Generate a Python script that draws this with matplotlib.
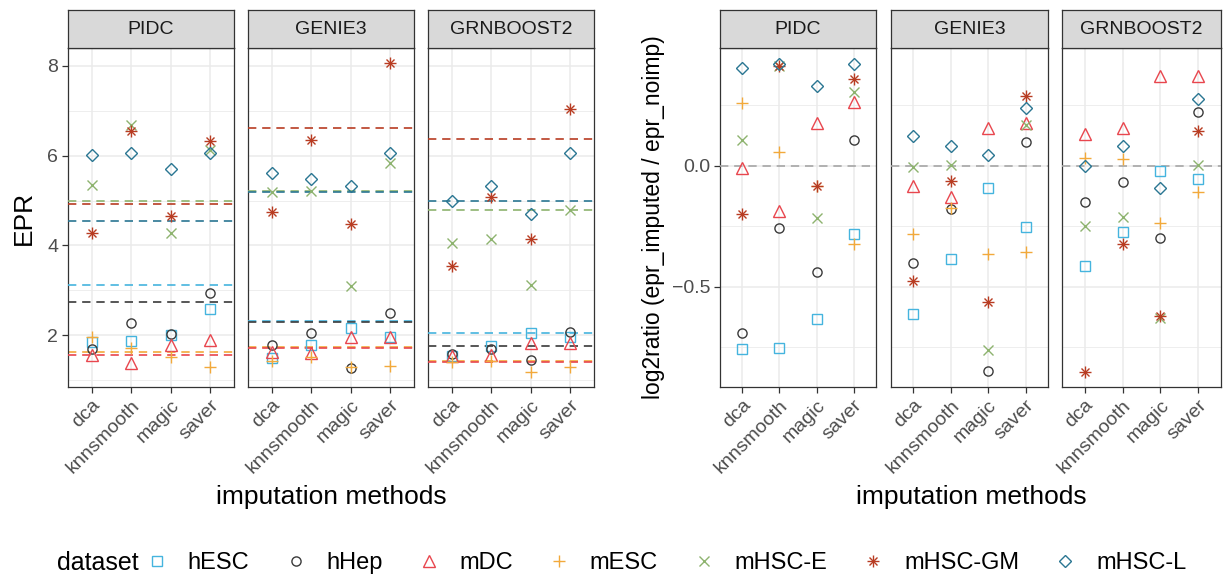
import numpy as np
import matplotlib
matplotlib.use("Agg")
import matplotlib.pyplot as plt
from matplotlib.lines import Line2D
from matplotlib.legend_handler import HandlerTuple
from matplotlib.transforms import ScaledTranslation

plt.rcParams['font.family'] = ['Liberation Sans', 'DejaVu Sans']

# categories
datasets = ['hESC', 'hHep', 'mDC', 'mESC', 'mHSC-E', 'mHSC-GM', 'mHSC-L']
methods = ['dca', 'knnsmooth', 'magic', 'saver']
algorithms = ['PIDC', 'GENIE3', 'GRNBOOST2']

# EPR of imputed data, rows = datasets, columns = methods
epr_pidc = [[1.84, 1.87, 2.01, 2.58],
            [1.69, 2.28, 2.02, 2.94],
            [1.56, 1.38, 1.77, 1.90],
            [1.97, 1.71, 1.52, 1.30],
            [5.35, 6.68, 4.28, 6.12],
            [4.28, 6.54, 4.65, 6.32],
            [6.02, 6.06, 5.71, 6.06]]
epr_genie3 = [[1.50, 1.77, 2.16, 1.95],
              [1.77, 2.04, 1.26, 2.49],
              [1.63, 1.60, 1.95, 1.97],
              [1.43, 1.51, 1.30, 1.32],
              [5.19, 5.22, 3.10, 5.84],
              [4.75, 6.34, 4.48, 8.07],
              [5.62, 5.47, 5.32, 6.06]]
epr_grnboost2 = [[1.53, 1.75, 2.04, 1.97],
                 [1.58, 1.69, 1.45, 2.08],
                 [1.54, 1.56, 1.82, 1.83],
                 [1.41, 1.43, 1.17, 1.30],
                 [4.05, 4.15, 3.12, 4.80],
                 [3.55, 5.09, 4.15, 7.05],
                 [5.00, 5.32, 4.70, 6.06]]

# EPR without imputation (dashed lines), one per dataset
noimp_pidc = [3.12, 2.73, 1.55, 1.62, 4.98, 4.92, 4.55]
noimp_genie3 = [2.31, 2.30, 1.71, 1.73, 5.21, 6.62, 5.18]
noimp_grnboost2 = [2.04, 1.76, 1.41, 1.42, 4.80, 6.38, 5.00]

# log2(epr_imputed / epr_noimp)
ratio_pidc = [[-0.759, -0.752, -0.635, -0.282],
              [-0.693, -0.256, -0.438, 0.106],
              [-0.011, -0.186, 0.175, 0.265],
              [0.260, 0.055, -0.085, -0.325],
              [0.106, 0.410, -0.217, 0.306],
              [-0.200, 0.410, -0.083, 0.358],
              [0.402, 0.419, 0.330, 0.419]]
ratio_genie3 = [[-0.614, -0.387, -0.093, -0.255],
                [-0.403, -0.180, -0.848, 0.099],
                [-0.084, -0.128, 0.155, 0.175],
                [-0.284, -0.176, -0.366, -0.355],
                [-0.004, 0.004, -0.762, 0.168],
                [-0.476, -0.063, -0.562, 0.288],
                [0.123, 0.083, 0.044, 0.237]]
ratio_grnboost2 = [[-0.414, -0.275, -0.023, -0.056],
                   [-0.151, -0.069, -0.297, 0.223],
                   [0.130, 0.157, 0.372, 0.372],
                   [0.031, 0.028, -0.235, -0.110],
                   [-0.248, -0.211, -0.630, 0.003],
                   [-0.851, -0.325, -0.621, 0.145],
                   [0.000, 0.083, -0.091, 0.276]]

epr_all = [epr_pidc, epr_genie3, epr_grnboost2]
noimp_all = [noimp_pidc, noimp_genie3, noimp_grnboost2]
ratio_all = [ratio_pidc, ratio_genie3, ratio_grnboost2]

colors = ['#45B4DE', '#3A3A3A', '#E8464E', '#F2A93B', '#8DB36E', '#B83C22', '#2A7692']
markers = ['s', 'o', '^', '+', 'x', '*', 'D']
msizes = [7.0, 6.6, 8.0, 9.0, 7.0, 9.0, 6.6]

W, H = 1223, 579
fig = plt.figure(figsize=(W / 100, H / 100), dpi=100)


def box(x0, x1, y0, y1):
    return [x0 / W, 1 - y1 / H, (x1 - x0) / W, (y1 - y0) / H]


def draw_marker(ax, x, y, k):
    c = colors[k]
    if markers[k] == '*':
        ax.plot(x, y, ls='none', marker='+', ms=msizes[k], mec=c, mew=1.0, zorder=4)
        ax.plot(x, y, ls='none', marker='x', ms=msizes[k] / 1.414, mec=c, mew=1.0, zorder=4)
    else:
        ax.plot(x, y, ls='none', marker=markers[k], ms=msizes[k], mfc='none',
                mec=c, mew=1.0, zorder=4)


def style_panel(ax, title, show_y):
    ax.set_facecolor('white')
    for s in ax.spines.values():
        s.set_color('#333333')
        s.set_linewidth(0.9)
    ax.grid(which='major', color='#EBEBEB', lw=1.1, zorder=0)
    ax.grid(which='minor', axis='y', color='#EBEBEB', lw=0.6, zorder=0)
    ax.set_axisbelow(True)
    ax.set_xticks(range(1, 5))
    ax.set_xticklabels(methods, rotation=45, ha='right', va='top',
                       rotation_mode='anchor', fontsize=14, color='#4D4D4D')
    # nudge rotated labels a little to the right, like ggplot's hjust=1
    for lab in ax.get_xticklabels():
        lab.set_transform(lab.get_transform() + ScaledTranslation(5 / 100, 2 / 100, fig.dpi_scale_trans))
    ax.set_xlim(0.4, 4.6)
    ax.tick_params(axis='both', which='major', length=4, width=0.9, color='#333333',
                   labelsize=14, labelcolor='#4D4D4D', pad=3)
    ax.tick_params(axis='y', which='minor', length=0)
    if not show_y:
        ax.tick_params(axis='y', which='major', length=0, labelleft=False)
    pos = ax.get_position()
    sax = fig.add_axes([pos.x0, pos.y1, pos.width, 38 / H])
    sax.set_facecolor('#D9D9D9')
    sax.set_xticks([])
    sax.set_yticks([])
    for s in sax.spines.values():
        s.set_color('#333333')
        s.set_linewidth(0.9)
    sax.text(0.5, 0.48, title, ha='center', va='center', fontsize=14,
             color='#1A1A1A', transform=sax.transAxes)


x = np.arange(1, 5)

# left: EPR
left_x = [(68, 234), (248, 414), (428, 594)]
for i, alg in enumerate(algorithms):
    ax = fig.add_axes(box(left_x[i][0], left_x[i][1], 48, 387))
    style_panel(ax, alg, i == 0)
    ax.set_ylim(0.845, 8.40)
    ax.set_yticks([2, 4, 6, 8])
    ax.set_yticks([1, 3, 5, 7], minor=True)
    for k in range(len(datasets)):
        z = 2.5 if datasets[k] == 'mESC' else 3
        ax.axhline(noimp_all[i][k], color=colors[k], lw=1.2, ls=(0, (5, 3.5)), zorder=z)
    for k in range(len(datasets)):
        draw_marker(ax, x, epr_all[i][k], k)
    if i == 0:
        ax.set_ylabel('EPR', fontsize=19, color='black', labelpad=8)

# right: log2 ratio
right_x = [(720, 876), (891, 1048), (1062, 1221)]
for i, alg in enumerate(algorithms):
    ax = fig.add_axes(box(right_x[i][0], right_x[i][1], 48, 387))
    style_panel(ax, alg, i == 0)
    ax.set_ylim(-0.914, 0.486)
    ax.set_yticks([-0.5, 0.0])
    ax.set_yticklabels(['\u22120.5', '0.0'])
    ax.set_yticks([-0.75, -0.25, 0.25], minor=True)
    ax.axhline(0, color='#A6A6A6', lw=1.2, ls=(0, (5, 3.5)), zorder=3)
    for k in range(len(datasets)):
        draw_marker(ax, x, ratio_all[i][k], k)
    if i == 0:
        ax.set_ylabel('log2ratio (epr_imputed / epr_noimp)', fontsize=16.5, color='black', labelpad=5)

fig.text(331 / W, 1 - 497 / H, 'imputation methods', ha='center', va='center', fontsize=19)
fig.text(971 / W, 1 - 497 / H, 'imputation methods', ha='center', va='center', fontsize=19)

# legend
handles = []
for k in range(len(datasets)):
    if markers[k] == '*':
        h1 = Line2D([], [], ls='none', marker='+', ms=msizes[k], mec=colors[k], mew=1.0)
        h2 = Line2D([], [], ls='none', marker='x', ms=msizes[k] / 1.414, mec=colors[k], mew=1.0)
        handles.append((h1, h2))
    else:
        handles.append(Line2D([], [], ls='none', marker=markers[k], ms=msizes[k],
                              mfc='none', mec=colors[k], mew=1.0))
fig.text(57 / W, 1 - 563 / H, 'dataset', ha='left', va='center', fontsize=18)
fig.legend(handles, datasets, loc='center left', bbox_to_anchor=(143 / W, 1 - 563 / H),
           ncol=7, frameon=False, fontsize=17, handlelength=1.2, handletextpad=0.7,
           columnspacing=1.35, borderaxespad=0, borderpad=0,
           handler_map={tuple: HandlerTuple(ndivide=1)})

fig.savefig('out.png', dpi=100)
